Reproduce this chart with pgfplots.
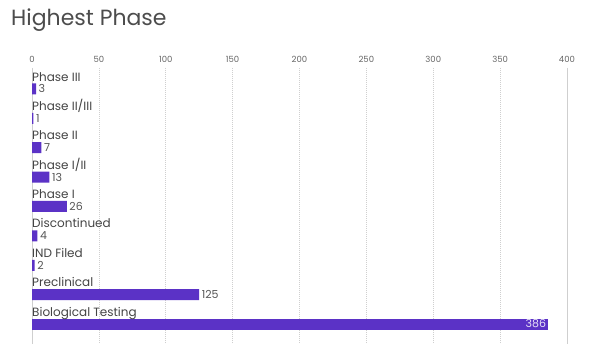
\documentclass[border=0pt]{standalone}
\usepackage{pgfplots}
\pgfplotsset{compat=1.18}
\usepackage{fontspec}
\setmainfont{Poppins}
\definecolor{barpurple}{HTML}{5B32C6}
\definecolor{labelgray}{HTML}{555555}
\definecolor{tickgray}{HTML}{666666}
\definecolor{gridgray}{HTML}{CFCFCF}

\begin{document}
\begin{tikzpicture}[x=1pt,y=1pt]
\begin{axis}[
  at={(32pt,0pt)}, anchor=south west,
  scale only axis,
  width=535pt, height=276pt,
  xmin=0, xmax=400,
  ymin=-0.714, ymax=8.68,
  y dir=reverse,
  xbar, bar width=11pt, bar shift=0pt,
  axis line style={draw=none},
  xtick={0,50,...,400},
  xticklabel pos=upper,
  xticklabel style={font=\fontsize{8.5}{10}\selectfont, text=tickgray, yshift=2pt},
  /pgf/number format/assume math mode=true,
  major tick length=0pt,
  ytick=\empty,
  xmajorgrids,
  grid style={gridgray, dash pattern=on 1pt off 1pt, line width=0.7pt},
  extra x ticks={0,400},
  extra x tick labels={},
  extra x tick style={grid style={solid, gridgray, line width=0.8pt}},
  clip=false,
]
% category bars with their counts beside them
\addplot[fill=barpurple, draw=none,
  nodes near coords,
  nodes near coords align={horizontal},
  every node near coord/.append style={font=\fontsize{11}{13}\selectfont, text=labelgray, anchor=west, inner sep=2.5pt},
  point meta=explicit symbolic]
  coordinates {
    (3,0) [3]
    (1,1) [1]
    (7,2) [7]
    (13,3) [13]
    (26,4) [26]
    (4,5) [4]
    (2,6) [2]
    (125,7) [125]
  };
% the largest bar carries its count inside
\addplot[fill=barpurple, draw=none,
  nodes near coords,
  nodes near coords align={horizontal},
  every node near coord/.append style={font=\fontsize{11}{13}\selectfont, text=white!85!barpurple, anchor=east, inner sep=2pt},
  point meta=explicit symbolic]
  coordinates {(386,8) [386]};

% category names above each bar
\foreach \lab [count=\i from 0] in {Phase III,Phase II/III,Phase II,Phase I/II,Phase I,Discontinued,IND Filed,Preclinical,Biological Testing}{
  \edef\temp{\noexpand\node[anchor=base west, inner sep=0pt, font=\noexpand\fontsize{12}{14}\noexpand\selectfont, text=labelgray!80!black] at (axis cs:0,\i-0.27) {\lab};}
  \temp
}
\end{axis}
\node[anchor=base west, inner sep=0pt, font=\fontsize{22}{26}\selectfont, text=labelgray!90!black] at (11pt,318pt) {Highest Phase};
\pgfresetboundingbox
\path[use as bounding box] (0,0) rectangle (615pt,344pt);
\end{tikzpicture}
\end{document}
